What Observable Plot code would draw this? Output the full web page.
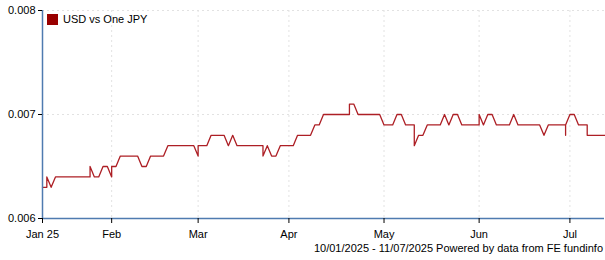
<!DOCTYPE html>
<html>
<head>
<meta charset="utf-8">
<script src="https://cdn.jsdelivr.net/npm/d3@7"></script>
<script src="https://cdn.jsdelivr.net/npm/@observablehq/plot@0.6"></script>
<style>
  html, body { margin: 0; padding: 0; background: #fff; }
  #wrap { position: relative; width: 605px; height: 260px; font-family: "Liberation Sans", Arial, sans-serif; font-size: 11px; color: #000; }
  #legend { position: absolute; left: 47px; top: 13px; display: flex; align-items: center; gap: 5px; }
  #legend .sw { width: 11px; height: 11px; background: #990000; }
  #caption { position: absolute; right: 2px; top: 241px; line-height: 14px; white-space: nowrap; }
</style>
</head>
<body>
<div id="wrap">
  <div id="chart"></div>
  <div id="legend"><span class="sw"></span><span id="legendLabel"></span></div>
  <div id="caption"></div>
</div>
<script>
// Series name and caption
const seriesName = "USD vs One JPY";
const captionText = "10/01/2025 - 11/07/2025 Powered by data from FE fundinfo";

// Trading-day index (weekdays from 10 Jan 2025); repeated index = value change at the same trading day
const tradingDay = [
  0,1,1,2,3,4,5,6,7,8,9,10,11,11,12,13,14,15,16,16,
  17,18,19,20,21,22,23,24,25,26,27,28,29,30,31,32,33,34,35,36,36,
  37,38,39,40,41,42,43,44,45,46,47,48,49,50,51,51,52,53,54,55,56,57,58,
  59,60,61,62,63,64,65,66,67,68,69,70,71,71,72,73,74,75,76,77,78,
  79,80,81,82,83,84,85,86,86,87,88,89,90,91,92,93,94,95,96,97,98,99,100,101,101,
  102,103,104,105,106,107,108,109,110,111,112,113,114,115,116,117,118,119,120,121,121,121,
  122,123,124,125,126,126,127,128,129,130
];

// USD value of one JPY
const usdPerJpy = [
  0.0063,0.0063,0.0064,0.0063,0.0064,0.0064,0.0064,0.0064,0.0064,0.0064,0.0064,0.0064,0.0064,0.0065,0.0064,0.0064,0.0065,0.0065,0.0064,0.0065,
  0.0065,0.0066,0.0066,0.0066,0.0066,0.0066,0.0065,0.0065,0.0066,0.0066,0.0066,0.0066,0.0067,0.0067,0.0067,0.0067,0.0067,0.0067,0.0067,0.0066,0.0067,
  0.0067,0.0067,0.0068,0.0068,0.0068,0.0068,0.0067,0.0068,0.0067,0.0067,0.0067,0.0067,0.0067,0.0067,0.0067,0.0066,0.0067,0.0066,0.0066,0.0067,0.0067,0.0067,0.0067,
  0.0068,0.0068,0.0068,0.0068,0.0069,0.0069,0.0070,0.0070,0.0070,0.0070,0.0070,0.0070,0.0070,0.0071,0.0071,0.0070,0.0070,0.0070,0.0070,0.0070,0.0070,
  0.0069,0.0069,0.0069,0.0070,0.0070,0.0069,0.0069,0.0069,0.0067,0.0068,0.0068,0.0069,0.0069,0.0069,0.0069,0.0070,0.0069,0.0070,0.0070,0.0069,0.0069,0.0069,0.0069,0.0069,0.0070,
  0.0069,0.0070,0.0070,0.0069,0.0069,0.0069,0.0069,0.0070,0.0069,0.0069,0.0069,0.0069,0.0069,0.0069,0.0068,0.0069,0.0069,0.0069,0.0069,0.0069,0.0068,0.0069,
  0.0070,0.0070,0.0069,0.0069,0.0069,0.0068,0.0068,0.0068,0.0068,0.0068
];

// Axis ticks
const xTickDays = [0, 16, 36, 57, 79, 101, 122];
const xTickLabels = ["Jan 25", "Feb", "Mar", "Apr", "May", "Jun", "Jul"];
const yTicks = [0.006, 0.007, 0.008];
const yTickLabels = ["0.006", "0.007", "0.008"];

const points = tradingDay.map((d, i) => ({day: d, value: usdPerJpy[i]}));

const axisBlue = "#4f7bb0";
const gridColor = "#e2e2e2";

const chart = Plot.plot({
  width: 605,
  height: 240,
  marginLeft: 42,
  marginRight: 1,
  marginTop: 10,
  marginBottom: 22,
  style: {fontFamily: "'Liberation Sans', Arial, sans-serif", fontSize: "11px", color: "#000", background: "#fff"},
  x: {domain: [0, 130], axis: null, label: null},
  y: {domain: [0.006, 0.008], axis: null, label: null},
  marks: [
    Plot.ruleX(xTickDays.slice(1), {stroke: gridColor, strokeDasharray: "2,3"}),
    Plot.ruleY(yTicks.slice(1), {stroke: gridColor, strokeDasharray: "2,3"}),
    Plot.line(points, {x: "day", y: "value", stroke: "#ad1f25", strokeWidth: 1.3}),
    Plot.ruleX([0], {stroke: axisBlue, strokeWidth: 1.5}),
    Plot.ruleY([0.006], {stroke: axisBlue, strokeWidth: 1.5}),
    Plot.axisY(yTicks, {
      label: null,
      tickSize: 4, tickPadding: 3, stroke: "#000",
      tickFormat: d => yTickLabels[yTicks.indexOf(d)],
      fill: "#000", fontSize: 11
    }),
    Plot.axisX(xTickDays, {
      label: null,
      tickSize: 5, tickPadding: 7, stroke: "#000",
      tickFormat: d => xTickLabels[xTickDays.indexOf(d)],
      fill: "#000", fontSize: 11
    })
  ]
});
document.getElementById("chart").appendChild(chart);
document.getElementById("legendLabel").textContent = seriesName;
document.getElementById("caption").textContent = captionText;
</script>
</body>
</html>
